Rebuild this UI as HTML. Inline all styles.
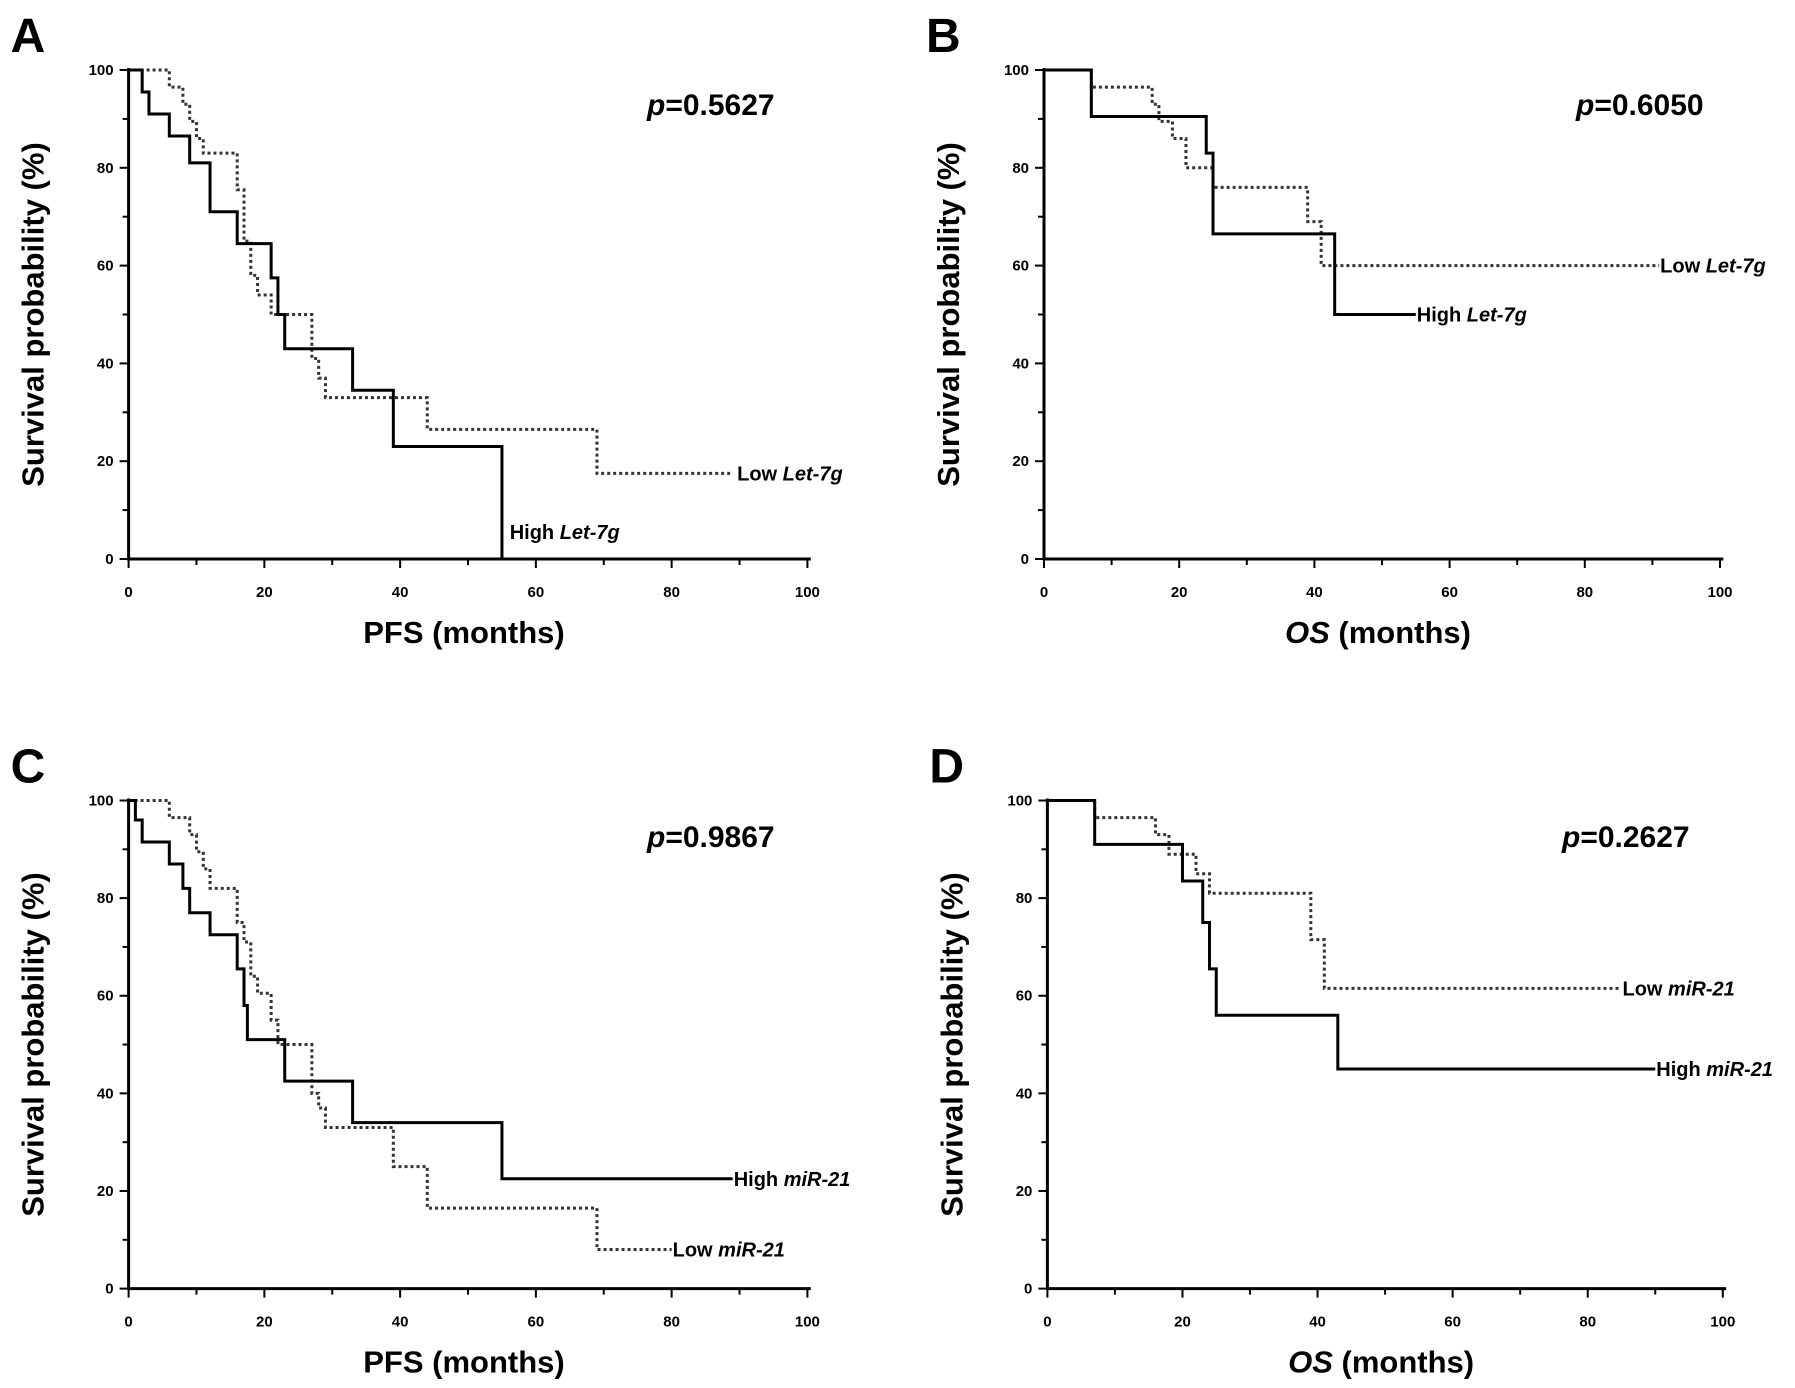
<!DOCTYPE html>
<html><head><meta charset="utf-8"><style>
html,body{margin:0;padding:0;background:#fff;}
svg{display:block;font-family:"Liberation Sans",sans-serif;}
</style></head><body>
<svg id="fig" width="1795" height="1388" viewBox="0 0 1795 1388" xmlns="http://www.w3.org/2000/svg"></svg>
<script>
// Panel A data
const aHighT=[0,2,3,6,9,12,16,21,22,23,33,39,55];
const aHighS=[100,95.5,91,86.5,81,71,64.5,57.5,50,43,34.5,23,0];
const aHighEnd=55;
const aLowT=[0,6,8,9,10,11,16,17,18,19,21,27,28,29,44,69];
const aLowS=[100,96.5,93,89.5,86,83,75.5,65,58,54,50,41,37,33,26.5,17.5];
const aLowEnd=89;
// Panel B data
const bHighT=[0,7,24,25,43];
const bHighS=[100,90.5,83,66.5,50];
const bHighEnd=55;
const bLowT=[0,7,16,17,19,21,25,39,41];
const bLowS=[100,96.5,93,89.5,86,80,76,69,60];
const bLowEnd=91;
// Panel C data
const cHighT=[0,1,2,6,8,9,12,16,17,17.5,23,33,55];
const cHighS=[100,96,91.5,87,82,77,72.5,65.5,58,51,42.5,34,22.5];
const cHighEnd=89;
const cLowT=[0,6,9,10,11,12,16,17,18,19,21,22,27,28,29,39,44,69];
const cLowS=[100,96.5,93,89.5,86,82,75,71,64,60.5,55,50,40,37,33,25,16.5,8];
const cLowEnd=80;
// Panel D data
const dHighT=[0,7,20,23,24,25,43];
const dHighS=[100,91,83.5,75,65.5,56,45];
const dHighEnd=90;
const dLowT=[0,7,16,18,22,24,39,41];
const dLowS=[100,96.5,93,89,85,81,71.5,61.5];
const dLowEnd=85;
const xTicks=[0,20,40,60,80,100];
const yTicks=[0,20,40,60,80,100];
const pValues=["0.5627","0.6050","0.9867","0.2627"];

const NS="http://www.w3.org/2000/svg";
const svg=document.getElementById('fig');
function mk(tag,attrs,parent){const e=document.createElementNS(NS,tag);for(const k in attrs)e.setAttribute(k,attrs[k]);(parent||svg).appendChild(e);return e;}

const panels=[
 {id:'a',letter:'A',x0:128.6,x1:807.4,y0:559,y1:70,xt:'PFS',hi:[aHighT,aHighS,aHighEnd],lo:[aLowT,aLowS,aLowEnd],
  hiLab:['High ','Let-7g',56,5.5],loLab:['Low ','Let-7g',89.5,17.5],px:647,py:115},
 {id:'b',letter:'B',x0:1044,x1:1720,y0:559,y1:70,xt:'OS',hi:[bHighT,bHighS,bHighEnd],lo:[bLowT,bLowS,bLowEnd],
  hiLab:['High ','Let-7g',55,50],loLab:['Low ','Let-7g',91,60],px:1576,py:115},
 {id:'c',letter:'C',x0:128.6,x1:807.4,y0:1288.6,y1:800.5,xt:'PFS',hi:[cHighT,cHighS,cHighEnd],lo:[cLowT,cLowS,cLowEnd],
  hiLab:['High ','miR-21',89,22.5],loLab:['Low ','miR-21',80,8],px:647,py:847},
 {id:'d',letter:'D',x0:1047.4,x1:1722.8,y0:1288.6,y1:800.5,xt:'OS',hi:[dHighT,dHighS,dHighEnd],lo:[dLowT,dLowS,dLowEnd],
  hiLab:['High ','miR-21',90,45],loLab:['Low ','miR-21',85,61.5],px:1562,py:847}
];

panels.forEach((p,i)=>{
 const g=mk('g',{});
 
 
 const X=v=>p.x0+(p.x1-p.x0)*v/100;
 const Y=v=>p.y0+(p.y1-p.y0)*v/100;
 const L=mk('text',{x:p.x0-118,y:p.y1-18,'font-size':48,'font-weight':'bold'},g);
 L.textContent=p.letter;
 
 
 const ax=mk('path',{d:`M${X(0)},${Y(100)-2}V${Y(0)}H${X(100.5)}`,fill:'none',stroke:'#000','stroke-width':3},g);
 
 
 for(let v=0;v<=100;v+=10){
  mk('line',{x1:X(v),x2:X(v),y1:Y(0),y2:Y(0)+(v%20?6:9),stroke:'#000','stroke-width':2},g);
  mk('line',{x1:X(0),x2:X(0)-(v%20?6:9),y1:Y(v),y2:Y(v),stroke:'#000','stroke-width':2},g);
 }
 xTicks.forEach(v=>{const t=mk('text',{x:X(v),y:Y(0)+38,'text-anchor':'middle','font-size':15,'font-weight':'bold'},g);t.textContent=v;
  
  });
 yTicks.forEach(v=>{const t=mk('text',{x:X(0)-15,y:Y(v)+5,'text-anchor':'end','font-size':15,'font-weight':'bold'},g);t.textContent=v;
  
  });
 const xt=mk('text',{x:(X(0)+X(100))/2-4,y:Y(0)+84,'text-anchor':'middle','font-size':31,'font-weight':'bold'},g);
 xt.innerHTML=(p.xt==='OS'?'<tspan font-style="italic">OS</tspan>':'PFS')+' (months)';
 
 
 const yc=(Y(0)+Y(100))/2;
 const yt=mk('text',{x:0,y:0,transform:`translate(${X(0)-85},${yc}) rotate(-90)`,'text-anchor':'middle','font-size':31,'font-weight':'bold'},g);
 yt.textContent='Survival probability (%)';
 
 
 const pv=mk('text',{x:p.px,y:p.py,'font-size':30,'font-weight':'bold'},g);
 pv.innerHTML='<tspan font-style="italic">p</tspan>='+pValues[i];
 
 
 function step(T,S,end){let d=`M${X(T[0])},${Y(S[0])}`;for(let k=1;k<T.length;k++){d+=`H${X(T[k])}V${Y(S[k])}`;}d+=`H${X(end)}`;return d;}
 const lo=mk('path',{d:step(...p.lo),fill:'none',stroke:'#333','stroke-width':3,'stroke-dasharray':'3,3'},g);
 
 
 const hi=mk('path',{d:step(...p.hi),fill:'none',stroke:'#000','stroke-width':3},g);
 
 
 [[p.hiLab,'high-label'],[p.loLab,'low-label']].forEach(([l,n])=>{
  const t=mk('text',{x:X(l[2])+1,y:Y(l[3])+7,'font-size':20,'font-weight':'bold'},g);
  t.innerHTML=l[0]+'<tspan font-style="italic">'+l[1]+'</tspan>';
  
  
 });
});
</script>
</body></html>
